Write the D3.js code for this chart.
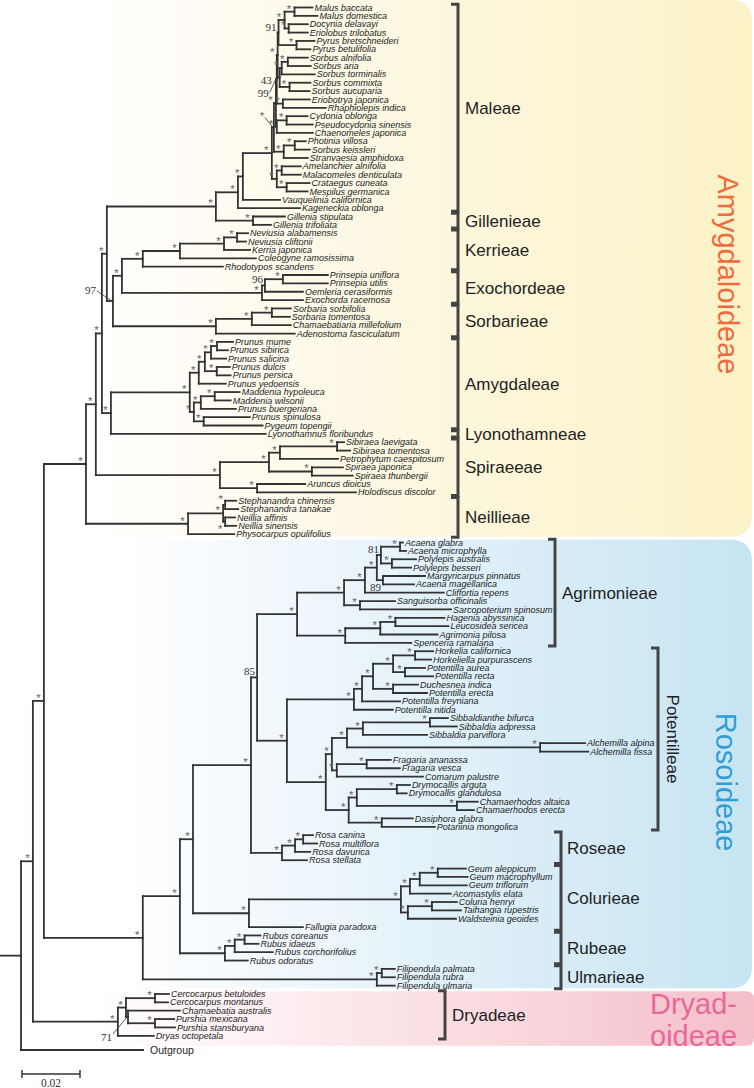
<!DOCTYPE html>
<html><head><meta charset="utf-8">
<script src="https://cdn.jsdelivr.net/npm/d3@7"></script>
<style>html,body{margin:0;padding:0;background:#fff;} svg{display:block;}</style>
</head><body><svg id="chart" width="754" height="1088"></svg>
<script>
// ---------------- DATA (Newick subtrees, branch lengths in substitutions/site) ----------------
const maleae = "((((((((((Malus_baccata:0.0062,Malus_domestica:0.0079)*:0.0034,(Docynia_delavayi:0.0066,Eriolobus_trilobatus:0.0066)*:0.0014)*:0.0021,(Pyrus_bretschneideri:0.0062,Pyrus_betulifolia:0.0048)*:0.0062)91:0.0003,(((Sorbus_alnifolia:0.0069,Sorbus_aria:0.0079)*:0.0021,Sorbus_torminalis:0.0114)*:0.0007,(Sorbus_commixta:0.0072,Sorbus_aucuparia:0.0069)*:0.0034)43:0.0007)*:0.0003,(Eriobotrya_japonica:0.0093,Rhaphiolepis_indica:0.0148)*:0.0021)99:0.0003,((Cydonia_oblonga:0.0072,Pseudocydonia_sinensis:0.0090)*:0.0034,Chaenomeles_japonica:0.0124)*:0.0003)*:0.0007,((Photinia_villosa:0.0038,Sorbus_keissleri:0.0052)*:0.0038,Stranvaesia_amphidoxa:0.0083)*:0.0034)*#X:0.0007,((Amelanchier_alnifolia:0.0066,Malacomeles_denticulata:0.0066)*:0.0017,(Crataegus_cuneata:0.0079,Mespilus_germanica:0.0072)*:0.0034)*:0.0017)*:0.0100,Vauquelinia_californica:0.0128)*:0.0017,Kageneckia_oblonga:0.0214)*";
const gillenieae = "(Gillenia_stipulata:0.0110,Gillenia_trifoliata:0.0062)*";
const kerrieae = "((((Neviusia_alabamensis:0.0038,Neviusia_cliftonii:0.0031)*:0.0045,Kerria_japonica:0.0090)*:0.0152,Coleogyne_ramosissima:0.0262)*:0.0128,Rhodotypos_scandens:0.0276)*";
const exochordeae = "(((Prinsepia_uniflora:0.0155,Prinsepia_utilis:0.0155)*:0.0062,Oemleria_cerasiformis:0.0131)96:0.0010,Exochorda_racemosa:0.0141)*";
const sorbarieae = "(((Sorbaria_sorbifolia:0.0066,Sorbaria_tomentosa:0.0062)*:0.0069,Chamaebatiaria_millefolium:0.0134)*:0.0124,Adenostoma_fasciculatum:0.0272)*";
const amygdaleae = "(((((Prunus_mume:0.0055,Prunus_sibirica:0.0038)*:0.0021,Prunus_salicina:0.0052)*:0.0021,(Prunus_dulcis:0.0045,Prunus_persica:0.0048)*:0.0041)*:0.0021,Prunus_yedoensis:0.0093)*:0.0031,(((Maddenia_hypoleuca:0.0086,Maddenia_wilsonii:0.0055)*:0.0048,Prunus_buergeriana:0.0121)*:0.0024,(Prunus_spinulosa:0.0159,Pygeum_topengii:0.0203)*:0.0034)*:0.0014)*";
const spiraeeae = "((((Sibiraea_laevigata:0.0024,Sibiraea_tomentosa:0.0045)*:0.0197,Petrophytum_caespitosum:0.0200)*:0.0038,(Spiraea_japonica:0.0107,Spiraea_thunbergii:0.0141)*:0.0148)*:0.0169,(Aruncus_dioicus:0.0166,Holodiscus_discolor:0.0341)*:0.0128)*";
const neillieae = "(((Stephanandra_chinensis:0.0038,Stephanandra_tanakae:0.0045)*#ST:0.0007,(Neillia_affinis:0.0034,Neillia_sinensis:0.0038)*#NS:0.0007)*:0.0121,Physocarpus_opulifolius:0.0159)*";
const agrimonieae = "((((((Acaena_glabra:0.0010,Acaena_microphylla:0.0021)*:0.0066,(Polylepis_australis:0.0083,Polylepis_besseri:0.0066)*:0.0038)81:0.0014,(Margyricarpus_pinnatus:0.0145,Acaena_magellanica:0.0107)89:0.0021)*:0.0041,Cliffortia_repens:0.0272)*:0.0072,(Sanguisorba_officinalis:0.0121,Sarcopoterium_spinosum:0.0314)*:0.0055)*:0.0162,(((Hagenia_abyssinica:0.0169,Leucosidea_sericea:0.0183)*:0.0052,Agrimonia_pilosa:0.0197)*:0.0121,Spenceria_ramalana:0.0228)*:0.0166)*";
const potentilleae = "((((((Horkelia_californica:0.0062,Horkeliella_purpurascens:0.0055)*:0.0076,(Potentilla_aurea:0.0069,Potentilla_recta:0.0097)*:0.0041)*:0.0069,(Duchesnea_indica:0.0086,Potentilla_erecta:0.0117)*:0.0069)*:0.0038,Potentilla_freyniana:0.0131)*:0.0028,Potentilla_nitida:0.0134)*:0.0231,(((((Sibbaldianthe_bifurca:0.0062,Sibbaldia_adpressa:0.0093)*:0.0231,Sibbaldia_parviflora:0.0221)*:0.0055,(Alchemilla_alpina:0.0155,Alchemilla_fissa:0.0166)*:0.0666)*:0.0052,((Fragaria_ananassa:0.0083,Fragaria_vesca:0.0114)*:0.0103,Comarum_palustre:0.0297)*:0.0017)*:0.0021,(((Drymocallis_arguta:0.0045,Drymocallis_glandulosa:0.0034)*:0.0138,(Chamaerhodos_altaica:0.0072,Chamaerhodos_erecta:0.0059)*:0.0345)*:0.0028,(Dasiphora_glabra:0.0107,Potaninia_mongolica:0.0183)*:0.0114)*:0.0079)*:0.0134)*";
const roseae = "(((Rosa_canina:0.0034,Rosa_multiflora:0.0048)*:0.0028,Rosa_davurica:0.0052)*:0.0045,Rosa_stellata:0.0086)*";
const colurieae = "((((Geum_aleppicum:0.0097,Geum_macrophyllum:0.0103)*:0.0062,Geum_triflorum:0.0162)*:0.0034,Acomastylis_elata:0.0141)*:0.0031,((Coluria_henryi:0.0086,Taihangia_rupestris:0.0100)*:0.0083,Waldsteinia_geoides:0.0166)*:0.0024)*";
const rubeae = "(((Rubus_coreanus:0.0055,Rubus_idaeus:0.0048)*:0.0034,Rubus_corchorifolius:0.0131)*:0.0034,Rubus_odoratus:0.0079)*";
const ulmarieae = "((Filipendula_palmata:0.0045,Filipendula_rubra:0.0045)*:0.0017,Filipendula_ulmaria:0.0062)*";
const dryadeae = "(((Cercocarpus_betuloides:0.0048,Cercocarpus_montanus:0.0045)*:0.0100,(Chamaebatia_australis:0.0179,(Purshia_mexicana:0.0066,Purshia_stansburyana:0.0069)*:0.0093)71:0.0007)*:0.0028,Dryas_octopetala:0.0124)*";

const amygdaloideae = `((((((${maleae}:0.0076,${gillenieae}:0.0128)*:0.0376,((${kerrieae}:0.0072,${exochordeae}:0.0483)*:0.0031,${sorbarieae}:0.0355)97:0.0021)*:0.0017,(${amygdaleae}:0.0272,Lyonothamnus_floribundus:0.0534)*:0.0031)*:0.0021,${spiraeeae}:0.0428)*:0.0034,${neillieae}:0.0352)*`;
const rosoideae = `(((((${agrimonieae}:0.0138,${potentilleae}:0.0103)85:0.0021,${roseae}:0.0107)*:0.0200,(${colurieae}:0.0524,Fallugia_paradoxa:0.0186)*:0.0193)*:0.0045,${rubeae}:0.0155)*:0.0128,${ulmarieae}:0.0807)*`;
const fullTree = `(((${amygdaloideae}:0.0145,${rosoideae}:0.0341)*:0.0038,${dryadeae}:0.0293)*:0.0041,Outgroup:0.0421);`;
const rootStem = 0.0072;
const scaleBarValue = 0.02;

const tribeNames = ["Maleae","Gillenieae","Kerrieae","Exochordeae","Sorbarieae","Amygdaleae","Lyonothamneae","Spiraeeae","Neillieae","Agrimonieae","Potentilleae","Roseae","Colurieae","Rubeae","Ulmarieae","Dryadeae"];
const tribeFirst = ["Malus baccata","Gillenia stipulata","Neviusia alabamensis","Prinsepia uniflora","Sorbaria sorbifolia","Prunus mume","Lyonothamnus floribundus","Sibiraea laevigata","Stephanandra chinensis","Acaena glabra","Horkelia californica","Rosa canina","Geum aleppicum","Rubus coreanus","Filipendula palmata","Cercocarpus betuloides"];
const tribeLast = ["Kageneckia oblonga","Gillenia trifoliata","Rhodotypos scandens","Exochorda racemosa","Adenostoma fasciculatum","Pygeum topengii","Lyonothamnus floribundus","Holodiscus discolor","Physocarpus opulifolius","Spenceria ramalana","Potaninia mongolica","Rosa stellata","Fallugia paradoxa","Rubus odoratus","Filipendula ulmaria","Dryas octopetala"];
const tribeGroup = ["amyg","amyg","amyg","amyg","amyg","amyg","amyg","amyg","amyg","agr","pot","ros","ros","ros","ros","dry"];

const subfamilies = ["Amygdaloideae","Rosoideae","Dryadoideae"];
const subfamilyFirst = ["Malus baccata","Acaena glabra","Cercocarpus betuloides"];
const subfamilyLast = ["Physocarpus opulifolius","Filipendula ulmaria","Dryas octopetala"];

// ---------------- STYLE / LAYOUT ----------------
const W = 754, H = 1088;
const rowStep = 8.36, rowTop = 7.5;
const bracketStyle = {
  amyg:{x:458, lx:465, vertical:false},
  agr:{x:555, lx:562, vertical:false},
  pot:{x:658, lx:667, vertical:true},
  ros:{x:561, lx:567, vertical:false},
  dry:{x:445, lx:452, vertical:false}
};
const subfamStyle = {
  Amygdaloideae:{color:"#ef6b3d", grad:["#ffffff","#fdf7df","#fbf2c6"], from:85},
  Rosoideae:{color:"#2f9dd6", grad:["#ffffff","#e2f1f9","#c6e4f2"], from:120},
  Dryadoideae:{color:"#e9679a", grad:["#ffffff","#fbe0e5","#f4bfc9"], from:95}
};
const special = [
  {key:"97", tx:-17, ty:-7, lx:-16, ly:-10},
  {key:"71", tx:-16, ty:24, lx:-15, ly:17},
  {key:"99", tx:-8, ty:18, lx:-7, ly:13},
  {key:"43", tx:-8, ty:6.5},
  {key:"89", tx:-2, ty:11},
  {key:"*#X", tx:-12, ty:-7, lx:-9, ly:-10},
  {key:"*#ST", tx:-4.5, ty:-2},
  {key:"*#NS", tx:-5, ty:11}
];

// ---------------- PARSE ----------------
function parseNewick(str){
  const s = str.replace(/\s+/g,'');
  let i = 0;
  function node(){
    const n = {name:"", len:0};
    if (s[i] === '('){
      i++; n.children = [];
      while (true){
        n.children.push(node());
        if (s[i] === ','){ i++; } else { i++; break; }
      }
    }
    let name = '';
    while (i < s.length && !',():;'.includes(s[i])) name += s[i++];
    n.name = name;
    if (s[i] === ':'){
      i++; let num = '';
      while (i < s.length && !',();'.includes(s[i])) num += s[i++];
      n.len = +num;
    }
    return n;
  }
  return node();
}

const root = d3.hierarchy(parseNewick(fullTree));
root.each(d => { d.dist = d.parent ? d.parent.dist + d.data.len : 0; });
const x = d3.scaleLinear().domain([0, scaleBarValue]).range([21, 79]);
const leaves = root.leaves();
const rowY = d3.scaleLinear().domain([0, 1]).range([rowTop, rowTop + rowStep]);
leaves.forEach((d, i) => { d.py = rowY(d.data.name === 'Outgroup' ? i + 0.7 : i); });
root.eachAfter(d => {
  if (d.children) d.py = (d.children[0].py + d.children[d.children.length-1].py) / 2;
  d.px = x(d.dist);
});
const leafY = {};
leaves.forEach(d => { leafY[d.data.name.replace(/_/g,' ')] = d.py; });

const svg = d3.select('#chart');
const defs = svg.append('defs');

// ---------------- BACKGROUND BANDS ----------------
function bandPath(x0, y0, x1, y1, r){
  return `M${x0},${y0} H${x1-r} Q${x1},${y0} ${x1},${y0+r} V${y1-r} Q${x1},${y1} ${x1-r},${y1} H${x0} Z`;
}
const bandY = subfamilies.map((s, i) => {
  let top = leafY[subfamilyFirst[i]] - rowStep/2 + 1.5;
  let bot = leafY[subfamilyLast[i]] + rowStep/2 - 1.5;
  if (i === 0) top = 0;
  if (i === 2) bot = leafY[subfamilyLast[i]] + 10;
  return [top, bot];
});
subfamilies.forEach((s, i) => {
  const st = subfamStyle[s];
  const g = defs.append('linearGradient').attr('id','g'+i).attr('gradientUnits','userSpaceOnUse')
    .attr('x1', st.from).attr('x2', W).attr('y1',0).attr('y2',0);
  g.append('stop').attr('offset','0').attr('stop-color',st.grad[0]);
  g.append('stop').attr('offset','0.5').attr('stop-color',st.grad[1]);
  g.append('stop').attr('offset','1').attr('stop-color',st.grad[2]);
  const r = i === 2 ? 8 : 22;
  svg.append('path').attr('d', bandPath(0, bandY[i][0], i === 2 ? W : 752, bandY[i][1], r))
    .attr('fill', `url(#g${i})`);
});

// ---------------- TREE ----------------
const lineColor = "#333";
const tree = svg.append('g').attr('fill','none').attr('stroke',lineColor).attr('stroke-width',1.8).attr('stroke-linecap','square');
const segs = [];
root.descendants().forEach(d => {
  if (d.children) segs.push(`M${d.px},${d.children[0].py} V${d.children[d.children.length-1].py}`);
  if (d.parent) segs.push(`M${d.parent.px},${d.py} H${d.px}`);
});
segs.push(`M${x(-rootStem)},${root.py} H${root.px}`);
tree.selectAll('path').data(segs).join('path').attr('d', d => d);

// leaf labels
svg.append('g').selectAll('text').data(leaves).join('text')
  .attr('x', d => d.px + (d.data.name === 'Outgroup' ? 7 : 2))
  .attr('y', d => d.py + (d.data.name === 'Outgroup' ? 3.8 : 3.1))
  .attr('font-family', 'Liberation Sans, Arial, sans-serif')
  .attr('font-size', d => d.data.name === 'Outgroup' ? 10.5 : 9)
  .attr('font-style', d => d.data.name === 'Outgroup' ? 'normal' : 'italic')
  .attr('fill', '#222')
  .text(d => d.data.name.replace(/_/g,' '));

// node support labels
const lab = svg.append('g');
root.descendants().filter(d => d.children && d.data.name).forEach(d => {
  const key = d.data.name;
  const txt = key.split('#')[0];
  const isStar = txt === '*';
  const sp = special.find(s => s.key === key);
  let tx, ty, anchor;
  if (sp){
    tx = d.px + sp.tx; ty = d.py + sp.ty; anchor = isStar ? 'middle' : 'end';
    if (sp.lx !== undefined){
      lab.append('line').attr('x1', d.px + sp.lx).attr('y1', d.py + sp.ly)
        .attr('x2', d.px - 1).attr('y2', d.py).attr('stroke', '#333').attr('stroke-width', 0.8);
    }
  } else if (isStar){ tx = d.px - 5.5; ty = d.py + 1; anchor = 'middle'; }
  else { tx = d.px - 2; ty = d.py - 2; anchor = 'end'; }
  lab.append('text').attr('x', tx).attr('y', ty).attr('text-anchor', anchor)
    .attr('font-family', isStar ? 'Liberation Sans, Arial, sans-serif' : 'Liberation Serif, Times New Roman, serif')
    .attr('font-size', isStar ? 11.5 : 11)
    .attr('fill', isStar ? '#666' : '#333')
    .text(txt);
});

// ---------------- TRIBE BRACKETS ----------------
const br = svg.append('g');
tribeNames.forEach((t, i) => {
  const st = bracketStyle[tribeGroup[i]];
  const y0 = leafY[tribeFirst[i]] - rowStep/2 + 1;
  const y1 = leafY[tribeLast[i]] + rowStep/2 - 1;
  br.append('path').attr('d', `M${st.x-7},${y0} H${st.x} V${y1} H${st.x-7}`)
    .attr('fill','none').attr('stroke','#444').attr('stroke-width',3);
  const mid = (y0 + y1) / 2;
  const tt = br.append('text').attr('font-family','Liberation Sans, Arial, sans-serif')
    .attr('font-size',17).attr('fill','#222').text(t);
  if (st.vertical){
    tt.attr('text-anchor','middle').attr('transform', `translate(${st.lx},${mid}) rotate(90)`);
  } else {
    tt.attr('x', st.lx).attr('y', mid + 6);
  }
});

// ---------------- SUBFAMILY LABELS ----------------
const sf = svg.append('g').attr('font-family','Liberation Sans, Arial, sans-serif').attr('font-size',29);
sf.append('text').attr('text-anchor','middle').attr('fill', subfamStyle.Amygdaloideae.color)
  .attr('transform', `translate(718,${(bandY[0][0]+bandY[0][1])/2 + 6}) rotate(90)`).text(subfamilies[0]);
sf.append('text').attr('text-anchor','middle').attr('fill', subfamStyle.Rosoideae.color)
  .attr('transform', `translate(716,${(bandY[1][0]+bandY[1][1])/2 + 18}) rotate(90)`).text(subfamilies[1]);
sf.append('text').attr('x', 650).attr('y', bandY[2][0] + 23).attr('fill', subfamStyle.Dryadoideae.color).text("Dryad-");
sf.append('text').attr('x', 650).attr('y', bandY[2][1]).attr('fill', subfamStyle.Dryadoideae.color).text("oideae");

// ---------------- SCALE BAR ----------------
const sbY = 1074;
const sb = svg.append('g').attr('stroke','#333').attr('stroke-width',1.4);
sb.append('line').attr('x1', x(0)+1).attr('x2', x(scaleBarValue)+1).attr('y1', sbY).attr('y2', sbY);
sb.append('line').attr('x1', x(0)+1).attr('x2', x(0)+1).attr('y1', sbY-4).attr('y2', sbY+4);
sb.append('line').attr('x1', x(scaleBarValue)+1).attr('x2', x(scaleBarValue)+1).attr('y1', sbY-4).attr('y2', sbY+4);
svg.append('text').attr('x', (x(0)+x(scaleBarValue))/2 + 1).attr('y', sbY + 13).attr('text-anchor','middle')
  .attr('font-family','Liberation Serif, Times New Roman, serif').attr('font-size',11.5).attr('fill','#333')
  .text(String(scaleBarValue));
</script></body></html>
